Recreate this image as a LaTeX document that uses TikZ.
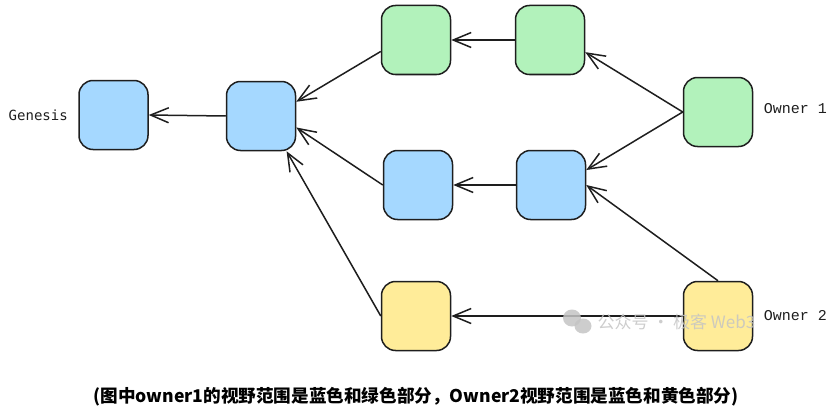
\documentclass[tikz,border=0pt]{standalone}
\usepackage{fontspec}
\usepackage{tikz}
\usetikzlibrary{positioning,arrows.meta}
\newfontfamily\cjk{Noto Sans CJK SC}
\newfontfamily\monosans{DejaVu Sans Mono}
\newfontfamily\monoserif{Liberation Mono}
\definecolor{stroke}{HTML}{1E1E1E}
\definecolor{chainblue}{HTML}{A5D8FF}
\definecolor{chaingreen}{HTML}{B2F2BB}
\definecolor{chainyellow}{HTML}{FFEC99}
\definecolor{markgray}{HTML}{C4C4C4}
\tikzset{
  block/.style={draw=stroke, line width=1.5pt, rounded corners=14pt, minimum width=69pt, minimum height=69pt, inner sep=0pt},
  bluebox/.style={block, fill=chainblue},
  greenbox/.style={block, fill=chaingreen},
  yellowbox/.style={block, fill=chainyellow},
  link/.style={-{Straight Barb[length=18pt,width=15pt,line width=1.5pt]}, draw=stroke, line width=1.5pt},
  tag/.style={font=\monoserif\fontsize{15}{17}\selectfont, text=stroke}
}

\begin{document}
\begin{tikzpicture}[x=1pt,y=-1pt]
  \useasboundingbox (0,0) rectangle (835,412);
  \node[bluebox] (genesis) at (113.5,115) {};
  \node[bluebox] (base) at (261,116) {};
  \node[greenbox] (green1) at (416,40) {};
  \node[greenbox] (green2) at (550,40) {};
  \node[greenbox] (owner1) at (718,112) {};
  \node[bluebox] (blue1) at (418,185) {};
  \node[bluebox] (blue2) at (551,185) {};
  \node[yellowbox] (yellow1) at (416,316) {};
  \node[yellowbox] (owner2) at (718,316) {};

  \node[tag, font=\monosans\fontsize{14}{16}\selectfont, left=7pt of genesis] (genlabel) {Genesis};
  \node[tag, right=7pt of owner1, yshift=3pt] (o1label) {Owner 1};
  \node[tag, right=7pt of owner2] (o2label) {Owner 2};

  \draw[link] (base.west) -- (genesis.east);
  \draw[link] (green2.west) -- (green1.east);
  \draw[link] (green1.-162) -- (base.22);
  \draw[link] (blue1.west) -- (base.-18);
  \draw[link] (yellow1.west) -- (base.-54);
  \draw[link] (blue2.west) -- (blue1.east);
  \draw[link] (owner1.west) -- (green2.-19);
  \draw[link] (owner1.west) -- (blue2.23);
  \draw[link] (owner2.north) -- (blue2.east);
  \draw[link] (owner2.west) -- (yellow1.east);

  % watermark
  \fill[markgray, opacity=0.85] (572,318) ellipse (9pt and 8.5pt);
  \fill[markgray, opacity=0.85] (583,326) ellipse (8.5pt and 7.5pt);
  \node[anchor=west, text=markgray, opacity=0.85, font=\cjk\fontsize{17}{20}\selectfont] (mark) at (594,322) {公众号 · 极客 Web3};

  \node[font=\cjk\bfseries\fontsize{17.6}{21}\selectfont] (caption) at (416,397) {(图中owner1的视野范围是蓝色和绿色部分，Owner2视野范围是蓝色和黄色部分)};
\end{tikzpicture}
\end{document}
